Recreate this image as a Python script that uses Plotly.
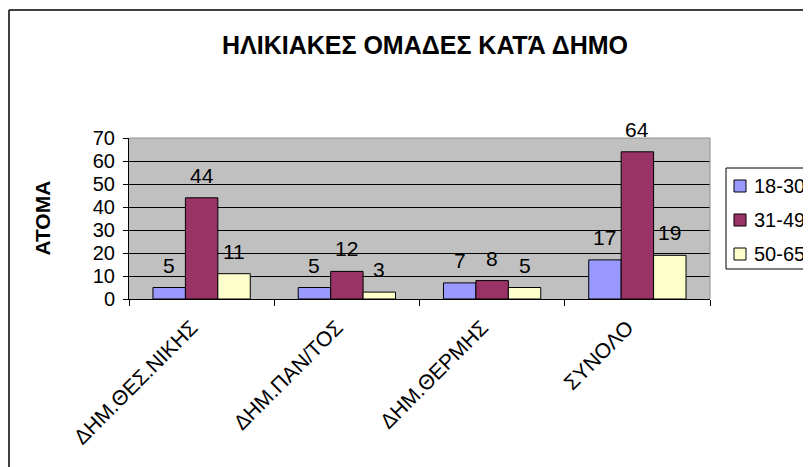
import plotly.graph_objects as go

categories = ["ΔΗΜ.ΘΕΣ.ΝΙΚΗΣ", "ΔΗΜ.ΠΑΝ/ΤΟΣ", "ΔΗΜ.ΘΕΡΜΗΣ", "ΣΥΝΟΛΟ"]
series_names = ["18-30", "31-49", "50-65"]
v_18_30 = [5, 5, 7, 17]
v_31_49 = [44, 12, 8, 64]
v_50_65 = [11, 3, 5, 19]
colors = ["#9999FF", "#993366", "#FFFFCC"]
y_ticks = [0, 10, 20, 30, 40, 50, 60, 70]

FONT = "Liberation Sans, Arial, sans-serif"
FS = 21
BARGAP = 0.33

series = [v_18_30, v_31_49, v_50_65]

fig = go.Figure()
for name, vals, col in zip(series_names, series, colors):
    fig.add_trace(go.Bar(
        x=categories, y=vals, name=name,
        marker=dict(color=col, line=dict(color="black", width=1)),
        showlegend=False,
    ))

# figure is placed at an 8px page offset; coordinates below are figure pixels
W, H = 803, 459
L, T = 121, 130
PW, PH = 581, 161

def px_x(x):
    return (x - L) / PW

def px_y(y):
    return 1 - (y - T) / PH

fig.update_layout(
    width=W, height=H,
    margin=dict(l=L, r=W - L - PW, t=T, b=H - T - PH, pad=0, autoexpand=False),
    paper_bgcolor="white", plot_bgcolor="#C0C0C0",
    barmode="group", bargap=BARGAP, bargroupgap=0,
    font=dict(family=FONT, size=FS, color="black"),
    title=dict(text="<b>ΗΛΙΚΙΑΚΕΣ ΟΜΑΔΕΣ ΚΑΤΆ ΔΗΜΟ</b>", x=417 / W, xanchor="center",
               y=1 - 37 / H, yanchor="middle", font=dict(family=FONT, size=25, color="black")),
    showlegend=False,
    xaxis=dict(type="category", tickangle=-45, tickson="boundaries", ticks="outside",
               ticklen=6, tickcolor="black", showline=True, linecolor="black", linewidth=1,
               showgrid=False, automargin=False, ticklabelshift=-10, ticklabelstandoff=7,
               tickfont=dict(family=FONT, size=FS, color="black")),
    yaxis=dict(range=[0, 70], tickvals=y_ticks, ticks="outside", ticklen=5, tickcolor="black",
               showline=True, linecolor="black", linewidth=1, showgrid=True, gridcolor="black",
               gridwidth=1, zeroline=False, automargin=False, ticklabelstandoff=4,
               tickfont=dict(family=FONT, size=20, color="black")),
)

# value labels above each bar (Excel-style gap)
w = (1 - BARGAP) / len(series)
for s, vals in enumerate(series):
    for i, v in enumerate(vals):
        fig.add_annotation(x=i + (s - (len(series) - 1) / 2) * w, y=v, xref="x", yref="y",
                           text=str(v), showarrow=False, xanchor="center", yanchor="bottom",
                           yshift=9, font=dict(family=FONT, size=FS, color="black"))

# y-axis title
fig.add_annotation(text="<b>ΑΤΟΜΑ</b>", xref="paper", yref="paper",
                   x=px_x(34), y=0.5, xanchor="center", yanchor="middle",
                   textangle=-90, showarrow=False,
                   font=dict(family=FONT, size=FS, color="black"))

# legend (cut by the right edge as in the original)
fig.add_shape(type="rect", xref="paper", yref="paper",
              x0=px_x(718), x1=px_x(840), y0=px_y(261), y1=px_y(160),
              line=dict(color="black", width=1), fillcolor="white")
for k, (name, col) in enumerate(zip(series_names, colors)):
    cy = 178 + k * 34
    fig.add_shape(type="rect", xref="paper", yref="paper",
                  x0=px_x(726), x1=px_x(738), y0=px_y(cy + 6), y1=px_y(cy - 6),
                  line=dict(color="black", width=1), fillcolor=col)
    fig.add_annotation(text=name, xref="paper", yref="paper", x=px_x(744), y=px_y(cy),
                       xanchor="left", yanchor="middle", showarrow=False,
                       font=dict(family=FONT, size=20, color="black"))

# outer chart border (extends past the right and bottom edges)
bx = px_x(1)
by = px_y(2)
fig.add_shape(type="line", xref="paper", yref="paper", x0=bx, x1=bx, y0=by, y1=-3,
              line=dict(color="black", width=1.5))
fig.add_shape(type="line", xref="paper", yref="paper", x0=bx, x1=3, y0=by, y1=by,
              line=dict(color="black", width=1.5))
# light plot-area border on top/right
fig.add_shape(type="line", xref="paper", yref="paper", x0=0, x1=1, y0=1, y1=1,
              line=dict(color="#909090", width=1))
fig.add_shape(type="line", xref="paper", yref="paper", x0=1, x1=1, y0=0, y1=1,
              line=dict(color="#909090", width=1))

fig.write_html("out.html")
